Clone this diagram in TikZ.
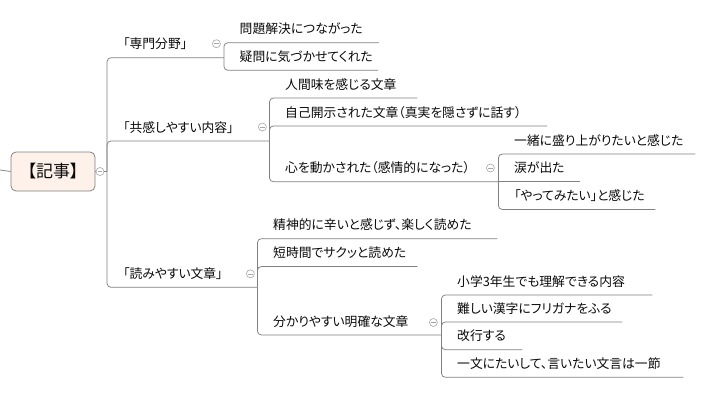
\documentclass[tikz,border=0pt]{standalone}
\usepackage{fontspec}
\newfontfamily\jp{Noto Sans CJK JP}[RawFeature=+palt]
\usetikzlibrary{calc}
\definecolor{linec}{HTML}{808080}
\definecolor{btnc}{HTML}{A6A6A6}
\definecolor{rootfill}{HTML}{FDF1E9}
\definecolor{txt}{HTML}{0A0A0A}
\begin{document}
\begin{tikzpicture}[x=1pt,y=-1pt,
  conn/.style={draw=linec, line width=0.75pt, rounded corners=4pt},
  topic/.style={anchor=south west, font=\jp\fontsize{12.8}{14}\selectfont, text=txt,
    inner xsep=16pt, inner ysep=5.7pt, text height=9pt, text depth=3pt,
    text width=#1pt, align=left},
  rootbox/.style={draw=linec, line width=0.75pt, fill=rootfill, rounded corners=5pt,
    minimum width=84pt, minimum height=39pt, inner sep=0pt,
    font=\jp\fontsize{17}{20}\selectfont, text=txt},
  btn/.style={circle, draw=btnc, fill=white, line width=0.6pt, minimum size=8pt, inner sep=0pt,
    path picture={\draw[btnc, line width=0.6pt]
      ([xshift=-2.2pt]path picture bounding box.center) --
      ([xshift=2.2pt]path picture bounding box.center);}}
]
\useasboundingbox (0,0) rectangle (721,400);

% root
\node[rootbox] (root) at (53,171.5) {【記事】};
\coordinate (lft) at (0,170);
\coordinate (trunk) at (107,171.5);

% main topics
\node[topic=84.5] (m1) at (107,57.7) {「専門分野」};
\node[topic=130] (m2) at (107,141) {「共感しやすい内容」};
\node[topic=118] (m3) at (107,287.3) {「読みやすい文章」};

% 専門分野
\node[topic=123] (a1) at (223.5,42.7) {問題解決につながった};
\node[topic=122] (a2) at (223.5,70.3) {疑問に気づかせてくれた};

% 共感しやすい内容
\node[topic=116] (b1) at (269,98) {人間味を感じる文章};
\node[topic=246] (b2) at (269,126) {自己開示された文章（真実を隠さずに話す）};
\node[topic=197] (b3) at (269,181.7) {心を動かされた（感情的になった）};
\node[topic=165] (c1) at (498,154) {一緒に盛り上がりたいと感じた};
\node[topic=50] (c2) at (498,181.7) {涙が出た};
\node[topic=125] (c3) at (498,209.5) {「やってみたい」と感じた};

% 読みやすい文章
\node[topic=208] (d1) at (257,238.7) {精神的に辛いと感じず、楽しく読めた};
\node[topic=128] (d2) at (257,266.5) {短時間でサクッと読めた};
\node[topic=152] (d3) at (257,335) {分かりやすい明確な文章};
\node[topic=179] (e1) at (441,295) {小学3年生でも理解できる内容};
\node[topic=149] (e2) at (441,322) {難しい漢字にフリガナをふる};
\node[topic=49] (e3) at (441,349.7) {改行する};
\node[topic=210] (e4) at (441,377.3) {一文にたいして、言いたい文言は一節};

% connectors
\draw[conn] (lft) -- (root.west);
\draw[conn] (root.east) -- (trunk);
\draw[conn] (trunk) |- (m1.south east);
\draw[conn] (trunk) |- (m2.south east);
\draw[conn] (trunk) |- (m3.south east);

\draw[conn] (m1.south east) |- (a1.south east);
\draw[conn] (m1.south east) |- (a2.south east);

\draw[conn] (m2.south east) |- (b1.south east);
\draw[conn] (m2.south east) |- (b2.south east);
\draw[conn] (m2.south east) |- (b3.south east);
\draw[conn] (b3.south east) |- (c1.south east);
\draw[conn] (b3.south east) -- (c2.south east);
\draw[conn] (b3.south east) |- (c3.south east);

\draw[conn] (m3.south east) |- (d1.south east);
\draw[conn] (m3.south east) |- (d2.south east);
\draw[conn] (m3.south east) |- (d3.south east);
\draw[conn] (d3.south east) |- (e1.south east);
\draw[conn] (d3.south east) |- (e2.south east);
\draw[conn] (d3.south east) |- (e3.south east);
\draw[conn] (d3.south east) |- (e4.south east);

% collapse buttons
\node[btn] (rb) at (100,171.5) {};
\node[btn] (mb1) at ($(m1.south east)+(-7.5,-14)$) {};
\node[btn] (mb2) at ($(m2.south east)+(-7,-14)$) {};
\node[btn] (mb3) at ($(m3.south east)+(-7,-13.5)$) {};
\node[btn] (bb3) at ($(b3.south east)+(-8,-13.7)$) {};
\node[btn] (db3) at ($(d3.south east)+(-8,-12.5)$) {};
\end{tikzpicture}
\end{document}
